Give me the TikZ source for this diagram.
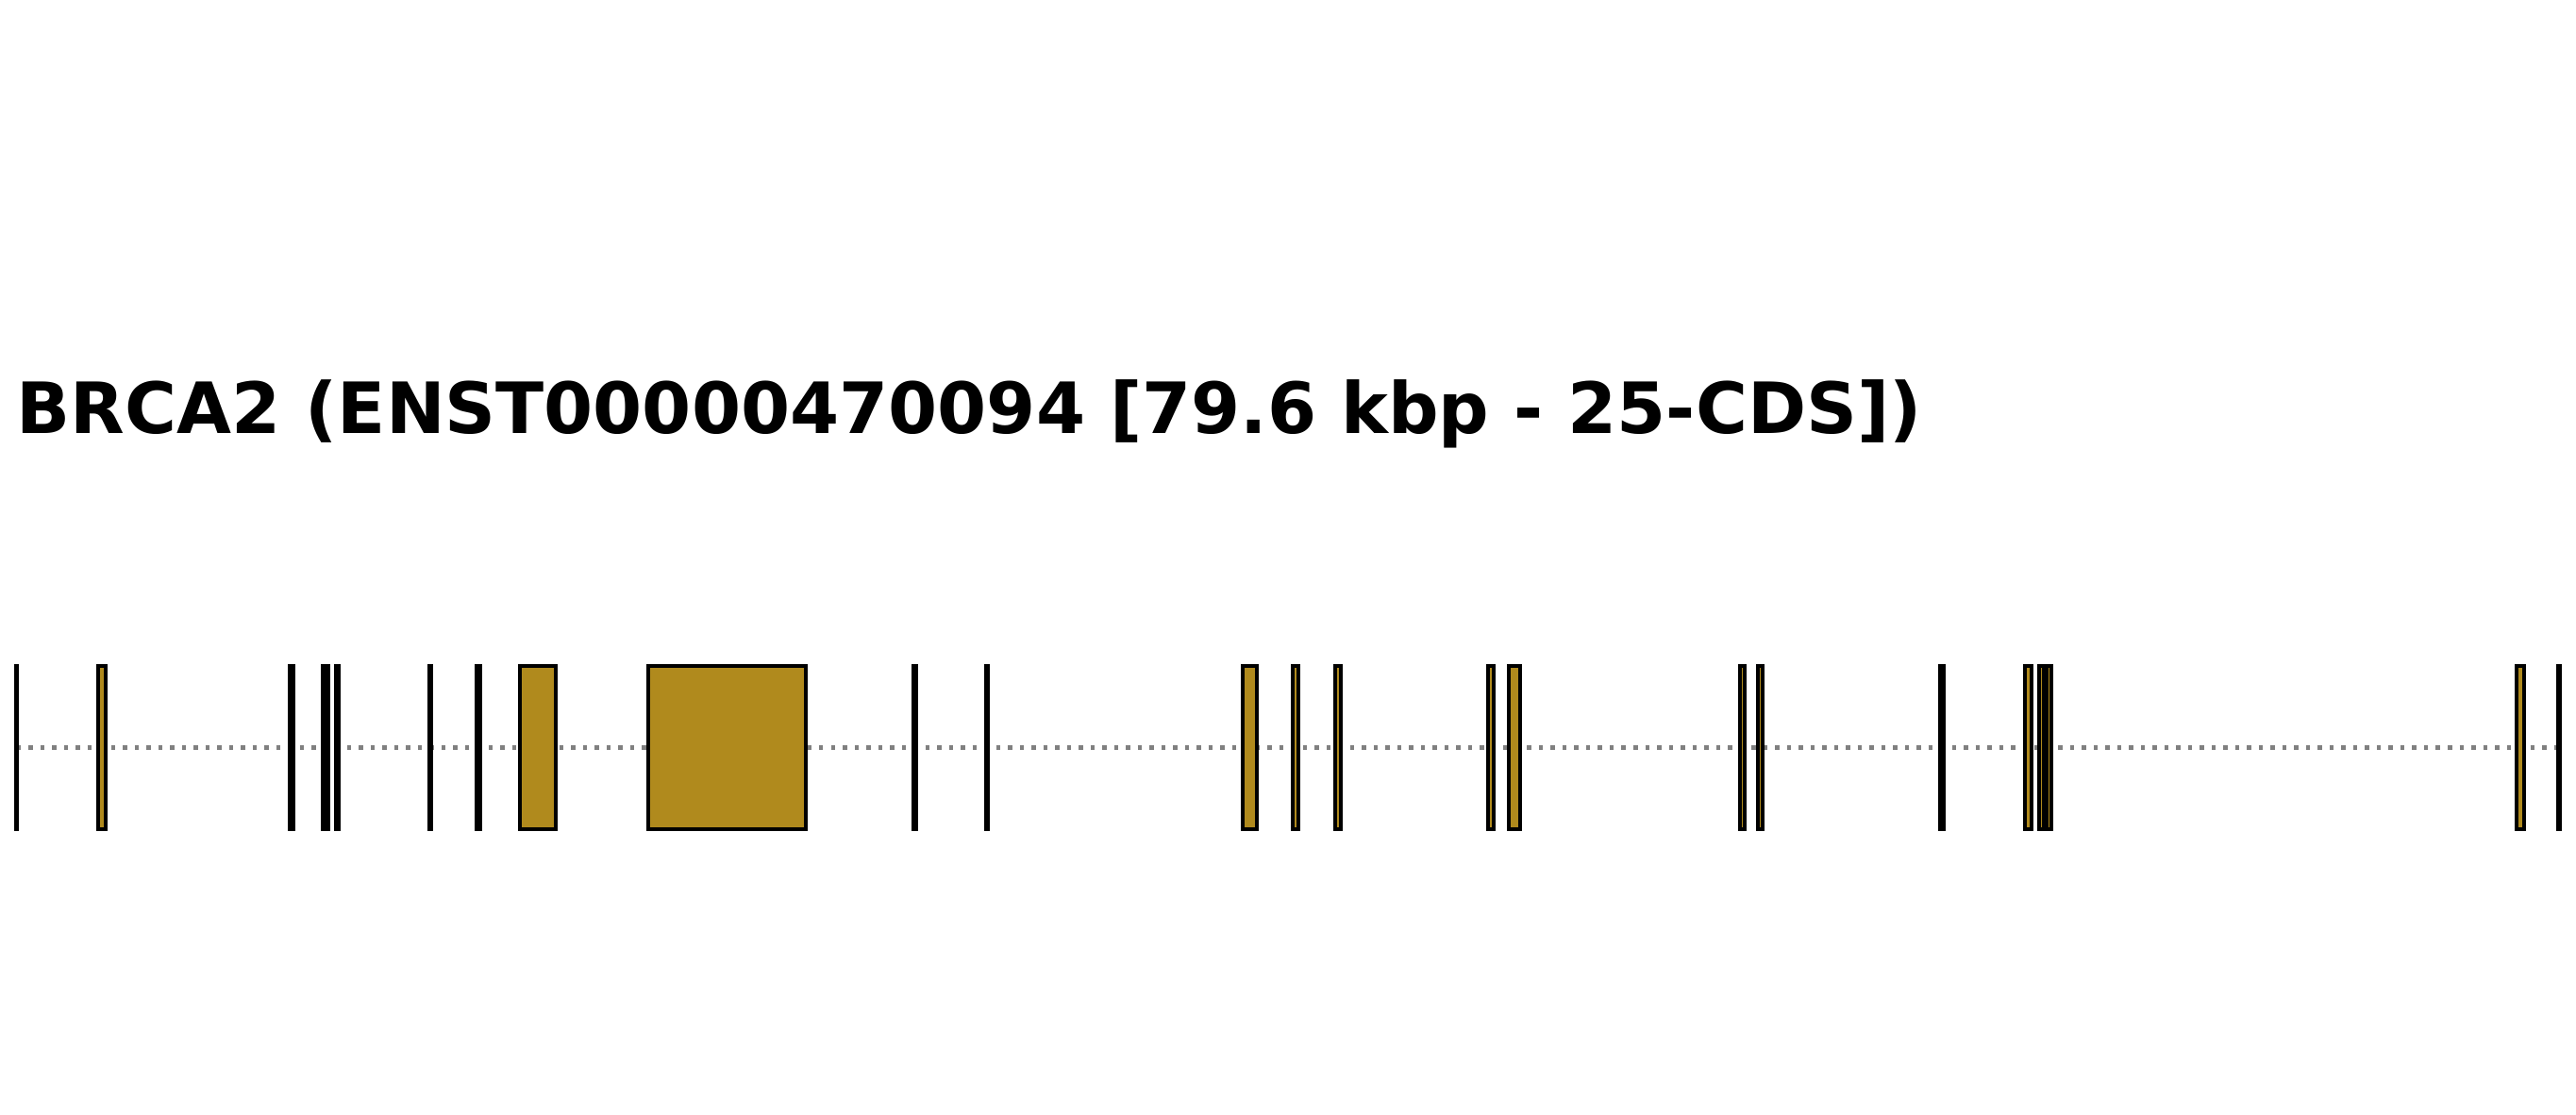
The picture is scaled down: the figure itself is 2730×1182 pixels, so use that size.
\documentclass[tikz,border=0pt]{standalone}
\usepackage{fontspec}
\setmainfont{DejaVu Sans}
\definecolor{cdsgold}{RGB}{176,138,29}
\definecolor{introngray}{RGB}{128,128,128}

\begin{document}
\begin{tikzpicture}[x=0.01cm,y=0.01cm]
\useasboundingbox (0,0) rectangle (2730,1182);
\node[anchor=base west,inner sep=0pt,font=\fontsize{21.3}{25}\selectfont\bfseries] (title) at (17,722) {BRCA2 (ENST00000470094 [79.6 kbp - 25-CDS])};
% intron line
\coordinate (start) at (17.5,389.3);
\coordinate (end) at (2712,389.3);
\draw[introngray,line width=0.045cm,dash pattern=on 0.045cm off 0.08cm] (start) -- (end);
% exons, outer left/right edges
\foreach \l/\r in {15/20,101.7/114,305/313,340/345,345/350,354/361,452.7/459,503/511,549/591,685/856,965.7/973.3,1042.7/1049.3,1315/1334,1368/1378,1413/1423,1575/1585,1597/1613,1841.7/1851.3,1860.7/1870,2053.7/2062.3,2143.7/2155.3,2159/2168,2167/2176,2665/2677,2709/2715}
  \draw[fill=cdsgold,line width=0.04cm] (\l+2,303.3) rectangle (\r-2,476);
\end{tikzpicture}
\end{document}
